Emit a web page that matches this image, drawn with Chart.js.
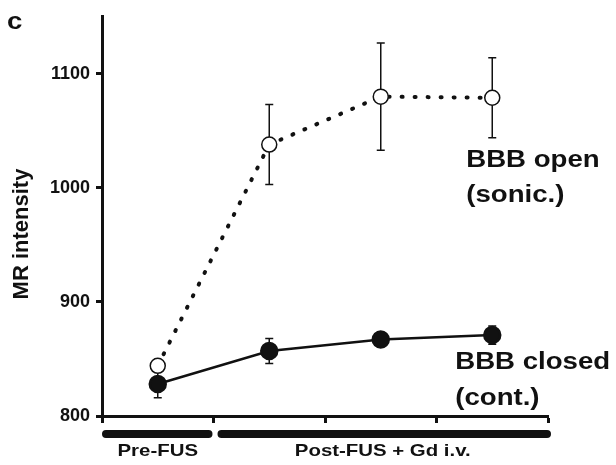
<!DOCTYPE html>
<html>
<head>
<meta charset="utf-8">
<script src="https://cdn.jsdelivr.net/npm/chart.js@4.4.1/dist/chart.umd.min.js"></script>
<style>
  html, body { margin: 0; padding: 0; background: #fff; }
  #wrap { width: 616px; height: 465px; }
</style>
</head>
<body>
<div id="wrap"><canvas id="mr"></canvas></div>
<script>
// data
const timepoints = ['Pre-FUS', 'Post 1', 'Post 2', 'Post 3'];
const openMean = [844, 1038, 1080, 1079];
const openErr = [0, 35, 47, 35];
const closedMean = [828, 857, 867, 871];
const closedErr = [12, 11, 3, 8];
const yTicks = [800, 900, 1000, 1100];

const FONT = '"Liberation Sans", Arial, sans-serif';
const INK = '#111';

// text in the source figure is stretched sideways a bit
function wideText(ctx, txt, x, y, size, align) {
  ctx.save();
  ctx.font = 'bold ' + size + 'px ' + FONT;
  ctx.fillStyle = INK;
  ctx.textBaseline = 'alphabetic';
  const w = ctx.measureText(txt).width * 1.2;
  let x0 = x;
  if (align === 'center') x0 = x - w / 2;
  ctx.translate(x0, y);
  ctx.scale(1.2, 1);
  ctx.fillText(txt, 0, 0);
  ctx.restore();
}

// error bars, drawn under the markers
const errorBars = {
  id: 'errorBars',
  beforeDatasetsDraw(chart) {
    const ctx = chart.ctx, xs = chart.scales.x, ys = chart.scales.y;
    const sets = [[openMean, openErr], [closedMean, closedErr]];
    ctx.save();
    ctx.strokeStyle = INK;
    ctx.lineWidth = 1.5;
    sets.forEach(([m, e]) => {
      m.forEach((v, i) => {
        if (!e[i]) return;
        const x = xs.getPixelForValue(i);
        const t = ys.getPixelForValue(v + e[i]);
        const b = ys.getPixelForValue(v - e[i]);
        ctx.beginPath();
        ctx.moveTo(x, t); ctx.lineTo(x, b);
        ctx.moveTo(x - 4, t); ctx.lineTo(x + 4, t);
        ctx.moveTo(x - 4, b); ctx.lineTo(x + 4, b);
        ctx.stroke();
      });
    });
    ctx.restore();
  }
};

// labels, axis title and the phase bars under the x axis
const extras = {
  id: 'extras',
  afterDraw(chart) {
    const ctx = chart.ctx, xs = chart.scales.x, ys = chart.scales.y;
    const area = chart.chartArea;

    wideText(ctx, 'c', 7, 29, 23);

    ctx.save();
    ctx.translate(28, 234);
    ctx.rotate(-Math.PI / 2);
    ctx.font = 'bold 22px ' + FONT;
    ctx.fillStyle = INK;
    ctx.textAlign = 'center';
    ctx.fillText('MR intensity', 0, 0);
    ctx.restore();

    const lx = xs.getPixelForValue(3) - 26;
    wideText(ctx, 'BBB open', lx, ys.getPixelForValue(1018), 23);
    wideText(ctx, '(sonic.)', lx, ys.getPixelForValue(988), 23);
    wideText(ctx, 'BBB closed', lx - 11, ys.getPixelForValue(841), 23);
    wideText(ctx, '(cont.)', lx - 11, ys.getPixelForValue(810), 23);

    const split = (xs.getPixelForValue(0) + xs.getPixelForValue(1)) / 2;
    const barY = area.bottom + 18;
    ctx.save();
    ctx.strokeStyle = INK;
    ctx.lineWidth = 8;
    ctx.lineCap = 'round';
    ctx.beginPath();
    ctx.moveTo(area.left + 4, barY); ctx.lineTo(split - 5, barY);
    ctx.moveTo(split + 8, barY); ctx.lineTo(area.right - 1, barY);
    ctx.stroke();
    ctx.restore();

    wideText(ctx, 'Pre-FUS', (area.left + split) / 2, area.bottom + 40, 17, 'center');
    wideText(ctx, 'Post-FUS + Gd i.v.', (split + area.right) / 2 + 2, area.bottom + 40, 17, 'center');
  }
};

new Chart(document.getElementById('mr'), {
  type: 'line',
  data: {
    labels: timepoints,
    datasets: [{
      label: 'BBB open (sonic.)',
      data: openMean,
      borderColor: INK,
      borderWidth: 4,
      borderDash: [1, 12],
      borderCapStyle: 'round',
      pointRadius: 7.5,
      pointBackgroundColor: '#fff',
      pointBorderColor: INK,
      pointBorderWidth: 1.5,
      tension: 0
    }, {
      label: 'BBB closed (cont.)',
      data: closedMean,
      borderColor: INK,
      borderWidth: 2.5,
      pointRadius: 8,
      pointBackgroundColor: INK,
      pointBorderColor: INK,
      tension: 0
    }]
  },
  options: {
    responsive: true,
    maintainAspectRatio: false,
    animation: false,
    layout: { padding: { top: 12, right: 68, bottom: 49, left: 0 } },
    plugins: { legend: { display: false }, tooltip: { enabled: false } },
    scales: {
      x: {
        type: 'category',
        offset: true,
        ticks: { display: false },
        grid: { offset: true, drawOnChartArea: false, tickLength: 7, tickWidth: 3, tickColor: INK },
        border: { color: INK, width: 3 },
        afterFit(s) { s.height = 0; }
      },
      y: {
        min: 800,
        max: 1150,
        afterBuildTicks(s) { s.ticks = yTicks.map(v => ({ value: v })); },
        ticks: {
          padding: 6,
          color: INK,
          font: { family: FONT, size: 18, weight: 'bold' },
          callback: v => String(v)
        },
        grid: { drawOnChartArea: false, tickLength: 6, tickWidth: 3, tickColor: INK },
        border: { color: INK, width: 3 },
        afterFit(s) { s.width = 102; }
      }
    }
  },
  plugins: [errorBars, extras]
});
</script>
</body>
</html>
